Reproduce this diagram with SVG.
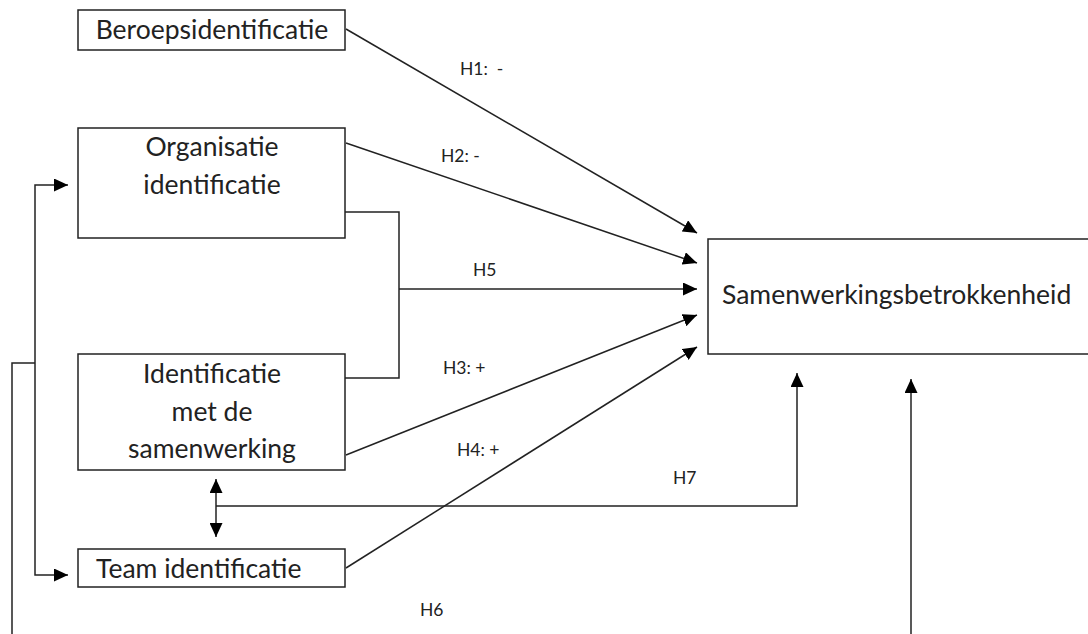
<svg xmlns="http://www.w3.org/2000/svg" width="1088" height="634" viewBox="0 0 1088 634">
<style>
.box{fill:#fff;stroke:#222;stroke-width:1.5}
.t{font-family:Lato,"Open Sans","Liberation Sans",sans-serif;font-size:26.5px;fill:#222}
.l{font-family:Lato,"Open Sans","Liberation Sans",sans-serif;font-size:17.5px;fill:#222;white-space:pre}
.c{fill:none;stroke:#222;stroke-width:1.5}
</style>
<defs>
<marker id="ah" markerUnits="userSpaceOnUse" markerWidth="15" markerHeight="13" refX="14" refY="6.5" orient="auto-start-reverse">
<path d="M0,0 L14,6.5 L0,13 z" fill="#000"/>
</marker>
</defs>
<rect width="1088" height="634" fill="#fff"/>
<g id="connectors">
<path class="c" d="M346,29 L697,233" marker-end="url(#ah)"/>
<path class="c" d="M346,143 L697,263" marker-end="url(#ah)"/>
<path class="c" d="M345,212 H399 V378 H345"/>
<path class="c" d="M399,289 H697" marker-end="url(#ah)"/>
<path class="c" d="M346,455 L697,315" marker-end="url(#ah)"/>
<path class="c" d="M346,568 L697,347" marker-end="url(#ah)"/>
<path class="c" d="M216,479 V537" marker-start="url(#ah)" marker-end="url(#ah)"/>
<path class="c" d="M216,506 H797 V373" marker-end="url(#ah)"/>
<path class="c" d="M911,634 V379" marker-end="url(#ah)"/>
<path class="c" d="M35,363 V185 H68" marker-end="url(#ah)"/>
<path class="c" d="M35,363 V575 H68" marker-end="url(#ah)"/>
<path class="c" d="M12,634 V363 H35"/>
<text class="l" x="460" y="75">H1:  -</text>
<text class="l" x="441" y="162">H2: -</text>
<text class="l" x="473" y="276">H5</text>
<text class="l" x="443" y="374">H3: +</text>
<text class="l" x="457" y="456">H4: +</text>
<text class="l" x="420" y="616">H6</text>
<text class="l" x="673" y="484">H7</text>
</g>
<g id="beroeps">
<rect class="box" x="78" y="10" width="267" height="40"/>
<text class="t" x="212" y="39" text-anchor="middle">Beroepsidentificatie</text>
</g>
<g id="organisatie">
<rect class="box" x="78" y="128" width="267" height="110"/>
<text class="t" x="212" y="156" text-anchor="middle">Organisatie</text>
<text class="t" x="212" y="194" text-anchor="middle">identificatie</text>
</g>
<g id="samenwerking">
<rect class="box" x="78" y="354" width="267" height="116"/>
<text class="t" x="212" y="383" text-anchor="middle">Identificatie</text>
<text class="t" x="212" y="421" text-anchor="middle">met de</text>
<text class="t" x="212" y="458" text-anchor="middle">samenwerking</text>
</g>
<g id="team">
<rect class="box" x="78" y="549" width="267" height="38"/>
<text class="t" x="96" y="578">Team identificatie</text>
</g>
<g id="betrokkenheid">
<rect class="box" x="708" y="239" width="390" height="115"/>
<text class="t" x="722" y="304">Samenwerkingsbetrokkenheid</text>
</g>
</svg>
